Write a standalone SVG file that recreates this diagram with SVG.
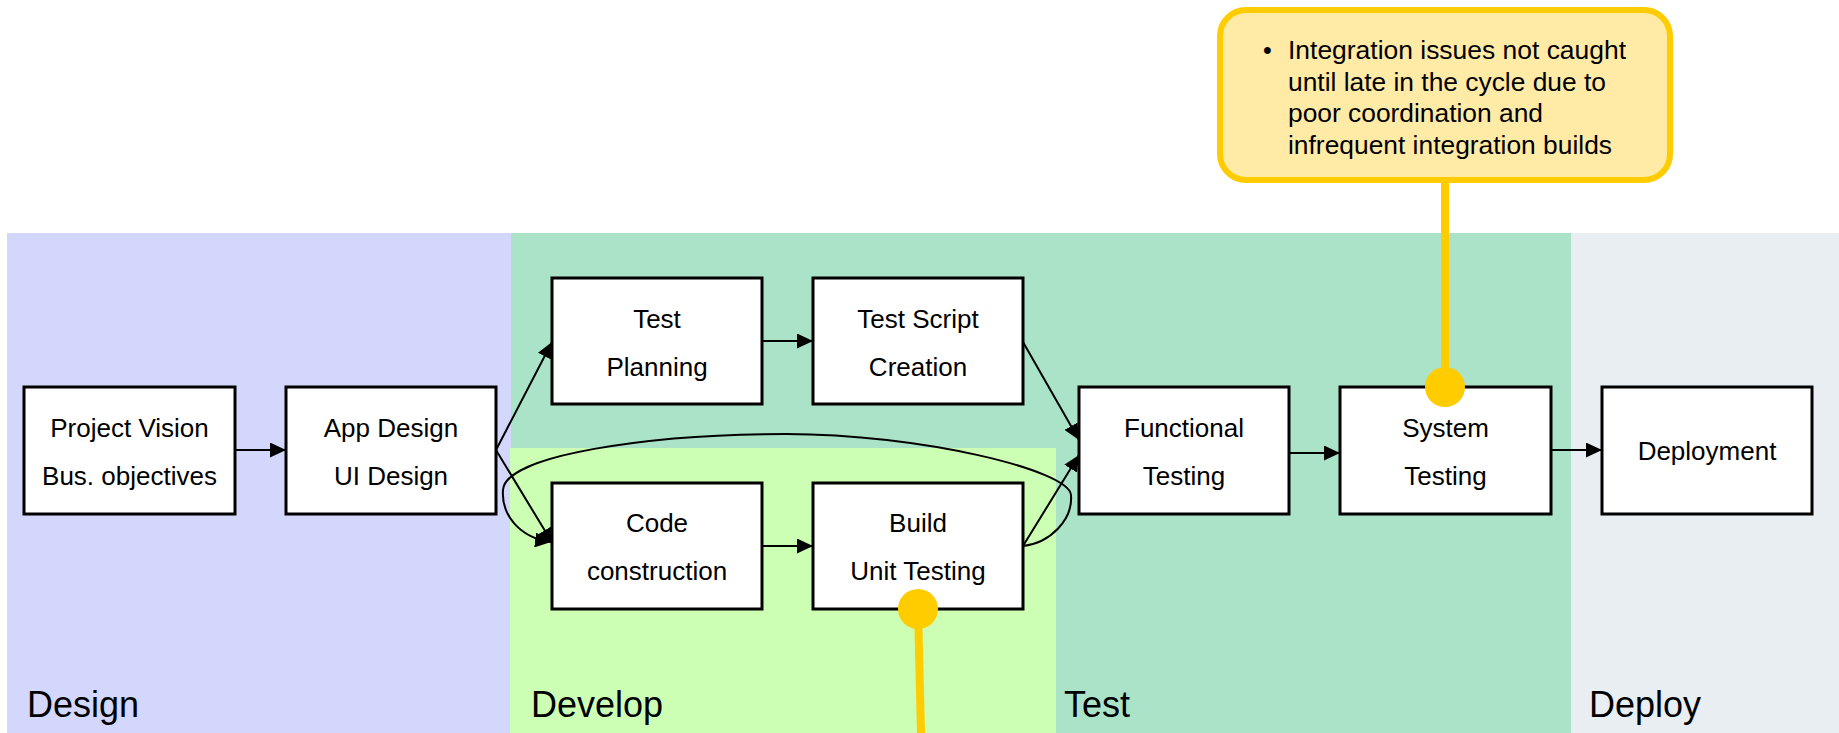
<svg xmlns="http://www.w3.org/2000/svg" width="1839" height="733" viewBox="0 0 1839 733">
  <style>
    .box { fill: #ffffff; stroke: #000000; stroke-width: 3; }
    .lbl { font-family: "Liberation Sans", Arial, sans-serif; font-size: 26px; fill: #000000; text-anchor: middle; }
    .phase { font-family: "Liberation Sans", Arial, sans-serif; font-size: 36px; fill: #000000; }
    .edge { fill: none; stroke: #000000; stroke-width: 2; marker-end: url(#arrow); }
    .note { font-family: "Liberation Sans", Arial, sans-serif; font-size: 25px; fill: #000000; }
    .pin { stroke: #FFCC00; stroke-width: 8; fill: none; }
    .dot { fill: #FFCC00; }
  </style>
  <defs>
    <marker id="arrow" markerUnits="userSpaceOnUse" markerWidth="16" markerHeight="15" refX="16" refY="7.5" orient="auto">
      <path d="M0,0 L16,7.5 L0,15 z" fill="#000000"/>
    </marker>
  </defs>

  <rect width="1839" height="733" fill="#ffffff"/>

  <!-- phase bands -->
  <g id="bands">
    <rect x="7" y="233" width="504" height="500" fill="#D3D7FB"/>
    <rect x="511" y="233" width="1060" height="500" fill="#ABE3C8"/>
    <rect x="510" y="448" width="546" height="285" fill="#CCFFB4"/>
    <rect x="1571" y="233" width="268" height="500" fill="#E9EEF2"/>
    <text class="phase" x="27" y="717">Design</text>
    <text class="phase" x="531" y="717">Develop</text>
    <text class="phase" x="1064" y="717">Test</text>
    <text class="phase" x="1589" y="717">Deploy</text>
  </g>

  <!-- connectors -->
  <g id="connectors">
    <path class="edge" d="M235,450 H286"/>
    <path class="edge" d="M496,450 L552,342"/>
    <path class="edge" d="M496,450 L553,544"/>
    <path class="edge" d="M762,341 H813"/>
    <path class="edge" d="M762,546 H813"/>
    <path class="edge" d="M1023,342 L1079,440"/>
    <path class="edge" d="M1023,546 L1079,455"/>
    <path class="edge" d="M1023,546 C1050,543 1073,520 1071,495 C1069,470 920,434 786,434 C650,434 505,455 503,490 C501,515 520,538 551,542"/>
    <path class="edge" d="M1289,453 H1340"/>
    <path class="edge" d="M1551,450 H1602"/>
  </g>

  <!-- process steps -->
  <g id="project-vision">
    <rect class="box" x="24" y="387" width="211" height="127"/>
    <text class="lbl" x="129.5" y="437">Project Vision</text>
    <text class="lbl" x="129.5" y="485">Bus. objectives</text>
  </g>
  <g id="app-design">
    <rect class="box" x="286" y="387" width="210" height="127"/>
    <text class="lbl" x="391" y="437">App Design</text>
    <text class="lbl" x="391" y="485">UI Design</text>
  </g>
  <g id="test-planning">
    <rect class="box" x="552" y="278" width="210" height="126"/>
    <text class="lbl" x="657" y="328">Test</text>
    <text class="lbl" x="657" y="376">Planning</text>
  </g>
  <g id="test-script">
    <rect class="box" x="813" y="278" width="210" height="126"/>
    <text class="lbl" x="918" y="328">Test Script</text>
    <text class="lbl" x="918" y="376">Creation</text>
  </g>
  <g id="code-construction">
    <rect class="box" x="552" y="483" width="210" height="126"/>
    <text class="lbl" x="657" y="532">Code</text>
    <text class="lbl" x="657" y="580">construction</text>
  </g>
  <g id="build">
    <rect class="box" x="813" y="483" width="210" height="126"/>
    <text class="lbl" x="918" y="532">Build</text>
    <text class="lbl" x="918" y="580">Unit Testing</text>
  </g>
  <g id="functional-testing">
    <rect class="box" x="1079" y="387" width="210" height="127"/>
    <text class="lbl" x="1184" y="437">Functional</text>
    <text class="lbl" x="1184" y="485">Testing</text>
  </g>
  <g id="system-testing">
    <rect class="box" x="1340" y="387" width="211" height="127"/>
    <text class="lbl" x="1445.5" y="437">System</text>
    <text class="lbl" x="1445.5" y="485">Testing</text>
  </g>
  <g id="deployment">
    <rect class="box" x="1602" y="387" width="210" height="127"/>
    <text class="lbl" x="1707" y="460">Deployment</text>
  </g>

  <!-- integration callout -->
  <g id="callout">
    <path class="pin" d="M1445,180 V387"/>
    <circle class="dot" cx="1445" cy="387" r="20"/>
    <rect x="1220" y="10" width="450" height="170" rx="26" fill="#FFEBA6" stroke="#FFCC00" stroke-width="6"/>
    <text class="note" x="1263" y="59">•</text>
    <text class="note" x="1288" y="59" textLength="338" lengthAdjust="spacingAndGlyphs">Integration issues not caught</text>
    <text class="note" x="1288" y="91" textLength="318" lengthAdjust="spacingAndGlyphs">until late in the cycle due to</text>
    <text class="note" x="1288" y="122" textLength="255" lengthAdjust="spacingAndGlyphs">poor coordination and</text>
    <text class="note" x="1288" y="154" textLength="324" lengthAdjust="spacingAndGlyphs">infrequent integration builds</text>
  </g>

  <!-- build callout pin -->
  <g id="build-pin">
    <path class="pin" d="M918,609 L921,733"/>
    <circle class="dot" cx="918" cy="609" r="20"/>
  </g>
</svg>
